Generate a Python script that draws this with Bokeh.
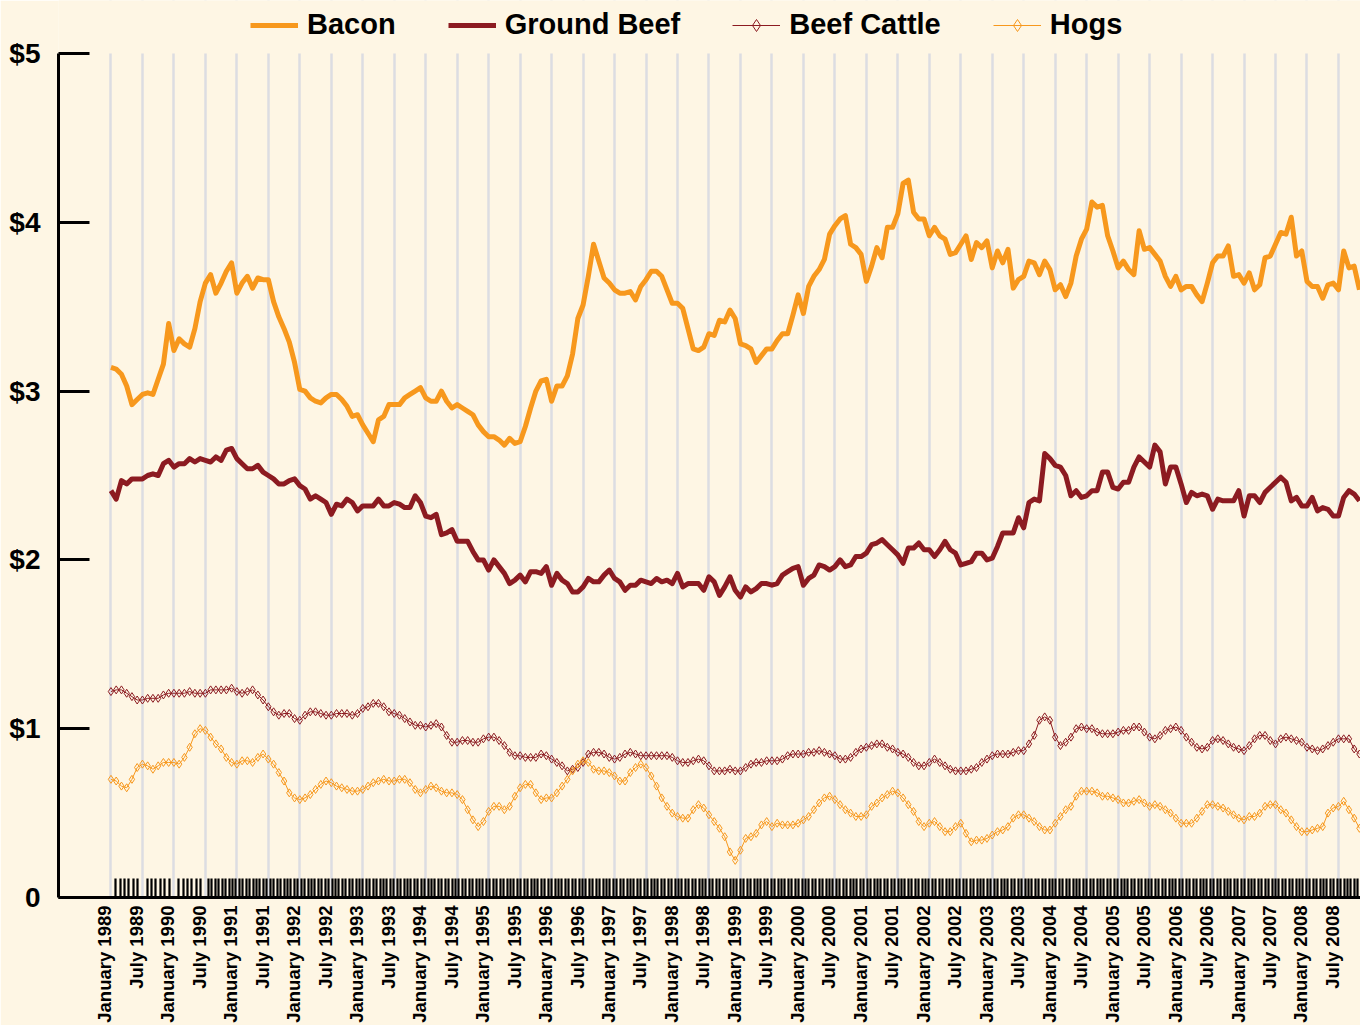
from bokeh.plotting import figure
from bokeh.models import (Range1d, FixedTicker, Legend, LegendItem, ColumnDataSource,
                          BoxAnnotation)
from bokeh.embed import file_html
from bokeh.resources import INLINE
import numpy as np

# ---------------- data (monthly, January 1989 onward) ----------------
bacon = [
    3.14, 3.13, 3.10, 3.03, 2.92, 2.95, 2.98, 2.99, 2.98, 3.07,
    3.16, 3.40, 3.24, 3.31, 3.28, 3.26, 3.37, 3.53, 3.64, 3.69,
    3.58, 3.64, 3.71, 3.76, 3.58, 3.64, 3.68, 3.61, 3.67, 3.66,
    3.66, 3.53, 3.44, 3.37, 3.29, 3.17, 3.01, 3.00, 2.96, 2.94,
    2.93, 2.96, 2.98, 2.98, 2.95, 2.91, 2.85, 2.86, 2.80, 2.75,
    2.70, 2.83, 2.85, 2.92, 2.92, 2.92, 2.96, 2.98, 3.00, 3.02,
    2.96, 2.94, 2.94, 3.00, 2.94, 2.90, 2.92, 2.90, 2.88, 2.86,
    2.80, 2.76, 2.73, 2.73, 2.71, 2.68, 2.72, 2.69, 2.70, 2.79,
    2.90, 3.00, 3.06, 3.07, 2.94, 3.03, 3.03, 3.09, 3.22, 3.43,
    3.51, 3.68, 3.87, 3.77, 3.67, 3.64, 3.60, 3.58, 3.58, 3.59,
    3.54, 3.62, 3.66, 3.71, 3.71, 3.68, 3.60, 3.52, 3.52, 3.49,
    3.37, 3.25, 3.24, 3.26, 3.34, 3.33, 3.42, 3.41, 3.48,
    3.43, 3.28, 3.27, 3.25, 3.17, 3.21, 3.25, 3.25, 3.30, 3.34, 3.34,
    3.45, 3.57, 3.46, 3.62, 3.68, 3.72, 3.78, 3.93, 3.98, 4.02,
    4.04, 3.87, 3.85, 3.81, 3.65, 3.74, 3.85, 3.79, 3.97, 3.97,
    4.05, 4.23, 4.25, 4.06, 4.02, 4.02, 3.92, 3.97, 3.92, 3.90,
    3.81, 3.82, 3.87, 3.92, 3.78, 3.88, 3.85, 3.89, 3.73, 3.83,
    3.76, 3.84, 3.61, 3.66, 3.68, 3.77, 3.76, 3.69, 3.77, 3.72,
    3.60, 3.63, 3.56, 3.64, 3.80, 3.90, 3.96, 4.12, 4.09, 4.10,
    3.92, 3.83, 3.73, 3.77, 3.72, 3.69, 3.95, 3.84, 3.85, 3.81,
    3.77, 3.68, 3.62, 3.68, 3.60, 3.62, 3.62, 3.57, 3.53, 3.64,
    3.76, 3.80, 3.80, 3.86, 3.68, 3.69, 3.64, 3.70, 3.60, 3.63,
    3.79, 3.80, 3.87, 3.94, 3.93, 4.03, 3.80, 3.83, 3.65, 3.62,
    3.62, 3.55, 3.63, 3.64, 3.60, 3.83, 3.73, 3.74, 3.60,
]

ground_beef = [
    2.41, 2.36, 2.47, 2.45, 2.48, 2.48, 2.48, 2.50, 2.51, 2.50,
    2.57, 2.59, 2.55, 2.57, 2.57, 2.60, 2.58, 2.60, 2.59, 2.58,
    2.61, 2.59, 2.65, 2.66, 2.60, 2.57, 2.54, 2.54, 2.56, 2.52,
    2.50, 2.48, 2.45, 2.45, 2.47, 2.48, 2.44, 2.42, 2.36, 2.38,
    2.36, 2.34, 2.27, 2.33, 2.32, 2.36, 2.34, 2.29, 2.32, 2.32,
    2.32, 2.36, 2.32, 2.32, 2.34, 2.33, 2.31, 2.31, 2.38, 2.34,
    2.26, 2.25, 2.27, 2.15, 2.16, 2.18, 2.11, 2.11, 2.11, 2.05,
    2.00, 2.00, 1.94, 2.00, 1.96, 1.92, 1.86, 1.88, 1.91, 1.87,
    1.93, 1.93, 1.92, 1.96, 1.85, 1.92, 1.88, 1.86, 1.81, 1.81,
    1.84, 1.89, 1.87, 1.87, 1.91, 1.94, 1.89, 1.87, 1.82, 1.85,
    1.85, 1.88, 1.87, 1.86, 1.89, 1.87, 1.88, 1.86, 1.92, 1.84,
    1.86, 1.86, 1.86, 1.82, 1.90, 1.87, 1.79, 1.84, 1.90,
    1.82, 1.78, 1.84, 1.81, 1.83, 1.86, 1.86, 1.85, 1.86, 1.91, 1.93,
    1.95, 1.96, 1.85, 1.89, 1.91, 1.97, 1.96, 1.94, 1.96, 2.00,
    1.96, 1.97, 2.02, 2.02, 2.04, 2.09, 2.10, 2.12, 2.09, 2.06,
    2.03, 1.98, 2.07, 2.07, 2.10, 2.06, 2.06, 2.02, 2.06, 2.11,
    2.06, 2.04, 1.97, 1.98, 1.99, 2.04, 2.04, 2.00, 2.01, 2.08,
    2.16, 2.16, 2.16, 2.25, 2.19, 2.34, 2.36, 2.35, 2.63, 2.60,
    2.56, 2.55, 2.50, 2.38, 2.41, 2.37, 2.38, 2.41, 2.41, 2.52,
    2.52, 2.43, 2.42, 2.46, 2.46, 2.55, 2.61, 2.58, 2.55, 2.68,
    2.64, 2.45, 2.55, 2.55, 2.45, 2.34, 2.40, 2.38, 2.39, 2.38,
    2.30, 2.36, 2.35, 2.35, 2.35, 2.41, 2.26, 2.38, 2.38, 2.34,
    2.40, 2.43, 2.46, 2.49, 2.46, 2.35, 2.37, 2.32, 2.32, 2.37,
    2.29, 2.31, 2.30, 2.26, 2.26, 2.37, 2.41, 2.39, 2.35,
]

beef_cattle = [
    1.22, 1.23, 1.23, 1.21, 1.19, 1.17, 1.17, 1.18, 1.18, 1.18,
    1.20, 1.21, 1.21, 1.21, 1.21, 1.22, 1.21, 1.21, 1.21, 1.23,
    1.23, 1.23, 1.23, 1.24, 1.22, 1.21, 1.22, 1.23, 1.20, 1.17,
    1.13, 1.10, 1.08, 1.09, 1.09, 1.06, 1.05, 1.08, 1.10, 1.10,
    1.09, 1.08, 1.08, 1.09, 1.09, 1.09, 1.08, 1.09, 1.12, 1.13,
    1.15, 1.15, 1.13, 1.10, 1.09, 1.08, 1.06, 1.04, 1.02, 1.02,
    1.01, 1.02, 1.03, 1.01, 0.96, 0.92, 0.92, 0.93, 0.93, 0.92,
    0.92, 0.94, 0.95, 0.95, 0.93, 0.90, 0.86, 0.84, 0.84, 0.83,
    0.83, 0.83, 0.85, 0.84, 0.82, 0.80, 0.78, 0.75, 0.76, 0.77,
    0.80, 0.85, 0.86, 0.86, 0.85, 0.83, 0.82, 0.83, 0.85, 0.86,
    0.85, 0.84, 0.84, 0.84, 0.84, 0.84, 0.84, 0.83, 0.81, 0.80,
    0.80, 0.81, 0.82, 0.81, 0.78, 0.75, 0.75, 0.75, 0.76,
    0.75, 0.75, 0.77, 0.79, 0.80, 0.80, 0.81, 0.81, 0.81, 0.82, 0.84,
    0.85, 0.85, 0.85, 0.86, 0.86, 0.87, 0.86, 0.85, 0.84, 0.82,
    0.82, 0.83, 0.86, 0.88, 0.89, 0.90, 0.91, 0.91, 0.89, 0.88,
    0.86, 0.85, 0.83, 0.80, 0.78, 0.78, 0.80, 0.82, 0.80, 0.78,
    0.76, 0.75, 0.75, 0.75, 0.76, 0.77, 0.80, 0.82, 0.84, 0.85,
    0.85, 0.85, 0.86, 0.87, 0.87, 0.91, 0.96, 1.05, 1.07, 1.05,
    0.95, 0.90, 0.92, 0.95, 1.00, 1.01, 1.00, 1.00, 0.98, 0.97,
    0.97, 0.97, 0.98, 0.99, 0.99, 1.01, 1.01, 0.98, 0.95, 0.94,
    0.96, 0.99, 1.00, 1.01, 0.99, 0.95, 0.92, 0.89, 0.88, 0.89,
    0.93, 0.94, 0.93, 0.91, 0.89, 0.88, 0.87, 0.90, 0.94, 0.96,
    0.96, 0.93, 0.91, 0.94, 0.95, 0.94, 0.93, 0.92, 0.89, 0.88,
    0.87, 0.88, 0.90, 0.92, 0.94, 0.94, 0.94, 0.88, 0.85,
]

hogs = [
    0.70, 0.69, 0.66, 0.65, 0.70, 0.77, 0.79, 0.78, 0.76, 0.78,
    0.80, 0.80, 0.80, 0.79, 0.83, 0.89, 0.97, 1.00, 0.99, 0.95,
    0.91, 0.88, 0.83, 0.80, 0.79, 0.81, 0.81, 0.80, 0.83, 0.85,
    0.82, 0.79, 0.74, 0.69, 0.62, 0.59, 0.58, 0.59, 0.61, 0.64,
    0.67, 0.69, 0.68, 0.66, 0.65, 0.64, 0.63, 0.63, 0.64, 0.66,
    0.68, 0.69, 0.70, 0.69, 0.69, 0.70, 0.70, 0.68, 0.64, 0.62,
    0.64, 0.66, 0.65, 0.63, 0.62, 0.62, 0.61, 0.58, 0.52, 0.46,
    0.42, 0.45, 0.51, 0.54, 0.54, 0.52, 0.54, 0.60, 0.65, 0.67,
    0.67, 0.62, 0.58, 0.59, 0.59, 0.62, 0.66, 0.70, 0.75, 0.79,
    0.81, 0.80, 0.76, 0.75, 0.75, 0.74, 0.72, 0.69, 0.69, 0.74,
    0.77, 0.79, 0.77, 0.72, 0.66, 0.59, 0.54, 0.50, 0.48, 0.47,
    0.47, 0.52, 0.55, 0.53, 0.49, 0.45, 0.41, 0.36, 0.27,
    0.22, 0.28, 0.35, 0.36, 0.38, 0.43, 0.45, 0.42, 0.44, 0.43, 0.43,
    0.43, 0.44, 0.46, 0.48, 0.52, 0.56, 0.59, 0.60, 0.58, 0.55,
    0.52, 0.50, 0.48, 0.48, 0.49, 0.54, 0.56, 0.59, 0.61, 0.63,
    0.62, 0.59, 0.55, 0.51, 0.45, 0.42, 0.44, 0.45, 0.42, 0.39,
    0.39, 0.42, 0.44, 0.38, 0.33, 0.34, 0.34, 0.35, 0.37, 0.39,
    0.40, 0.42, 0.47, 0.49, 0.49, 0.47, 0.45, 0.42, 0.40, 0.40,
    0.44, 0.48, 0.52, 0.54, 0.60, 0.63, 0.63, 0.63, 0.62, 0.60,
    0.60, 0.59, 0.58, 0.56, 0.56, 0.57, 0.58, 0.56, 0.54, 0.55,
    0.54, 0.52, 0.50, 0.47, 0.44, 0.44, 0.44, 0.47, 0.51, 0.55,
    0.55, 0.54, 0.53, 0.51, 0.49, 0.47, 0.46, 0.48, 0.48, 0.50,
    0.54, 0.55, 0.55, 0.52, 0.50, 0.46, 0.42, 0.39, 0.39, 0.40,
    0.41, 0.42, 0.50, 0.53, 0.54, 0.57, 0.52, 0.47, 0.41,
]

tick_labels = []
for yr in range(1989, 2009):
    tick_labels.append("January %d" % yr)
    tick_labels.append("July %d" % yr)

y_ticks = [0, 1, 2, 3, 4, 5]
y_tick_labels = ["0", "$1", "$2", "$3", "$4", "$5"]

series_names = ["Bacon", "Ground Beef", "Beef Cattle", "Hogs"]

# ---------------- styling ----------------
BG = "#fef6e4"
ORANGE = "#f7981d"
DARKRED = "#8c1b21"
FONT = "Liberation Sans"

n = len(bacon)
months = list(range(n))
src = ColumnDataSource(dict(m=months, bacon=bacon, beef=ground_beef,
                            cattle=beef_cattle, hogs=hogs))

# frame reaches the top of the canvas; the strip above $5 holds the legend
y_top = 5 * 897 / 844
p = figure(width=1360, height=1025, output_backend="svg", toolbar_location=None,
           x_range=Range1d(-10, 238.2), y_range=Range1d(0, y_top),
           min_border_left=58, min_border_right=0, min_border_top=0,
           min_border_bottom=128)
p.background_fill_color = BG
p.border_fill_color = BG
p.outline_line_color = None

# grid: vertical lines every six months
grid_months = [6 * i for i in range(len(tick_labels))]
p.ygrid.grid_line_color = None
p.xgrid.ticker = FixedTicker(ticks=grid_months)
p.xgrid.grid_line_color = "#dcdde2"
p.xgrid.grid_line_width = 2.5

# cover the grid above the $5 line (legend strip)
p.add_layout(BoxAnnotation(bottom=y_ticks[-1], fill_color=BG, fill_alpha=1,
                           line_color=None, level="underlay"))

# x axis: labels slightly left of grid lines, dense minor ticks
label_pos = [round(g - 1.15, 2) for g in grid_months]
minor = []
for k in range(3):
    minor += list(np.round(6 * k + 0.9 + 0.84 * np.arange(6), 3))
minor += list(np.round(np.arange(18.6, 238.0, 0.654), 3))
p.xaxis.ticker = FixedTicker(ticks=label_pos, minor_ticks=minor)
p.xaxis.major_label_overrides = {pos: lab for pos, lab in zip(label_pos, tick_labels)}
p.xaxis.major_label_orientation = np.pi / 2
p.xaxis.major_label_text_font = FONT
p.xaxis.major_label_text_font_style = "bold"
p.xaxis.major_label_text_font_size = "18.5px"
p.xaxis.major_label_text_color = "black"
p.xaxis.major_label_standoff = 8
p.xaxis.major_tick_in = 0
p.xaxis.major_tick_out = 0
p.xaxis.minor_tick_in = 19
p.xaxis.minor_tick_out = 0
p.xaxis.minor_tick_line_width = 2.2
p.xaxis.minor_tick_line_color = "black"
p.xaxis.axis_line_width = 3
p.xaxis.axis_line_color = "black"

# y axis (line stops at $5)
p.yaxis.ticker = FixedTicker(ticks=y_ticks, minor_ticks=[])
p.yaxis.bounds = (y_ticks[0], y_ticks[-1])
p.yaxis.major_label_overrides = {t: s for t, s in zip(y_ticks, y_tick_labels)}
p.yaxis.major_label_text_font = FONT
p.yaxis.major_label_text_font_style = "bold"
p.yaxis.major_label_text_font_size = "28px"
p.yaxis.major_label_text_color = "black"
p.yaxis.major_label_standoff = 18
p.yaxis.major_tick_in = 31
p.yaxis.major_tick_out = 0
p.yaxis.major_tick_line_width = 3
p.yaxis.minor_tick_line_color = None
p.yaxis.axis_line_width = 3
p.yaxis.axis_line_color = "black"

# series
r_bacon = p.line("m", "bacon", source=src, line_color=ORANGE, line_width=5,
                 line_join="round")
r_beef = p.line("m", "beef", source=src, line_color=DARKRED, line_width=5,
                line_join="round")
r_cattle_l = p.line("m", "cattle", source=src, line_color=DARKRED, line_width=1)
r_cattle_s = p.scatter("m", "cattle", source=src, marker="diamond", size=8,
                       line_color=DARKRED, fill_color=None, line_width=1)
r_hogs_l = p.line("m", "hogs", source=src, line_color=ORANGE, line_width=1)
r_hogs_s = p.scatter("m", "hogs", source=src, marker="diamond", size=8,
                     line_color=ORANGE, fill_color=None, line_width=1)

legend = Legend(items=[
    LegendItem(label=series_names[0], renderers=[r_bacon]),
    LegendItem(label=series_names[1], renderers=[r_beef]),
    LegendItem(label=series_names[2], renderers=[r_cattle_l, r_cattle_s]),
    LegendItem(label=series_names[3], renderers=[r_hogs_l, r_hogs_s]),
], orientation="horizontal", location=(192, 856))
legend.label_text_font = FONT
legend.label_text_font_style = "bold"
legend.label_text_font_size = "29px"
legend.label_text_color = "black"
legend.glyph_width = 48
legend.glyph_height = 30
legend.label_standoff = 9
legend.spacing = 52
legend.padding = 0
legend.margin = 0
legend.border_line_color = None
legend.background_fill_alpha = 0
p.add_layout(legend, "center")

open("out.html", "w").write(file_html(p, INLINE))
